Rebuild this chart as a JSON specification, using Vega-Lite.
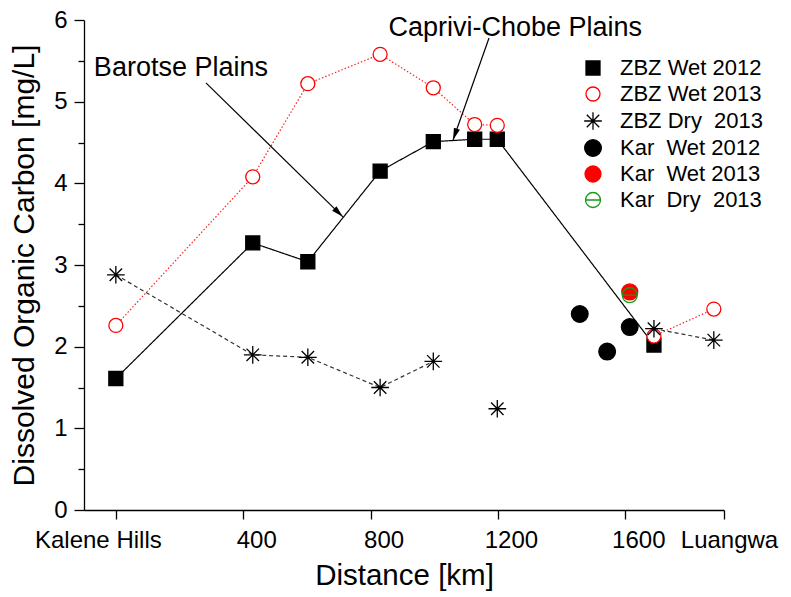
{
  "$schema": "https://vega.github.io/schema/vega-lite/v6.json",
  "width": 640,
  "height": 490,
  "autosize": "none",
  "padding": {"left": 84, "top": 20, "right": 67, "bottom": 87},
  "background": "white",
  "config": {
    "view": {"stroke": null},
    "font": "Liberation Sans",
    "axis": {
      "grid": false,
      "domainColor": "black",
      "domainWidth": 1.3,
      "tickColor": "black",
      "tickWidth": 1.3,
      "labelColor": "black",
      "labelFontSize": 24,
      "labelFont": "Liberation Sans",
      "titleColor": "black",
      "titleFontWeight": "normal",
      "titleFont": "Liberation Sans"
    },
    "legend": {
      "labelFontSize": 22,
      "labelColor": "black",
      "labelFont": "Liberation Sans",
      "labelLimit": 400,
      "symbolStrokeWidth": 1.3,
      "symbolSize": 196,
      "rowPadding": 4,
      "labelOffset": 16,
      "padding": 0,
      "symbolOffset": 0
    }
  },
  "datasets": {
    "obs": [
      {"series": "ZBZ Wet 2012", "seg": "a", "x": 0, "y": 1.61},
      {"series": "ZBZ Wet 2012", "seg": "a", "x": 430, "y": 3.27},
      {"series": "ZBZ Wet 2012", "seg": "a", "x": 603, "y": 3.04},
      {"series": "ZBZ Wet 2012", "seg": "a", "x": 830, "y": 4.15},
      {"series": "ZBZ Wet 2012", "seg": "a", "x": 997, "y": 4.51},
      {"series": "ZBZ Wet 2012", "seg": "a", "x": 1127, "y": 4.54},
      {"series": "ZBZ Wet 2012", "seg": "a", "x": 1198, "y": 4.54},
      {"series": "ZBZ Wet 2012", "seg": "a", "x": 1690, "y": 2.02},
      {"series": "ZBZ Wet 2013", "seg": "a", "x": 0, "y": 2.26},
      {"series": "ZBZ Wet 2013", "seg": "a", "x": 430, "y": 4.08},
      {"series": "ZBZ Wet 2013", "seg": "a", "x": 603, "y": 5.22},
      {"series": "ZBZ Wet 2013", "seg": "a", "x": 830, "y": 5.58},
      {"series": "ZBZ Wet 2013", "seg": "a", "x": 997, "y": 5.17},
      {"series": "ZBZ Wet 2013", "seg": "a", "x": 1127, "y": 4.72},
      {"series": "ZBZ Wet 2013", "seg": "a", "x": 1198, "y": 4.71},
      {"series": "ZBZ Wet 2013", "seg": "b", "x": 1690, "y": 2.13},
      {"series": "ZBZ Wet 2013", "seg": "b", "x": 1878, "y": 2.46},
      {"series": "ZBZ Dry 2013", "seg": "a", "x": 0, "y": 2.88},
      {"series": "ZBZ Dry 2013", "seg": "a", "x": 430, "y": 1.90},
      {"series": "ZBZ Dry 2013", "seg": "a", "x": 603, "y": 1.87},
      {"series": "ZBZ Dry 2013", "seg": "a", "x": 830, "y": 1.50},
      {"series": "ZBZ Dry 2013", "seg": "a", "x": 997, "y": 1.82},
      {"series": "ZBZ Dry 2013", "seg": "b", "x": 1198, "y": 1.24},
      {"series": "ZBZ Dry 2013", "seg": "c", "x": 1690, "y": 2.22},
      {"series": "ZBZ Dry 2013", "seg": "c", "x": 1878, "y": 2.08},
      {"series": "Kar Wet 2012", "seg": "a", "x": 1457, "y": 2.40},
      {"series": "Kar Wet 2012", "seg": "a", "x": 1543, "y": 1.94},
      {"series": "Kar Wet 2012", "seg": "a", "x": 1614, "y": 2.24},
      {"series": "Kar Wet 2013", "seg": "a", "x": 1614, "y": 2.67},
      {"series": "Kar Dry 2013", "seg": "a", "x": 1614, "y": 2.63}
    ],
    "notes": [
      {"label": "Barotse Plains", "x": -69, "y": 5.31},
      {"label": "Caprivi-Chobe Plains", "x": 856, "y": 5.80}
    ],
    "arrows": [
      {"name": "Barotse", "x": 283, "y": 5.23, "x2": 713, "y2": 3.59},
      {"name": "Caprivi", "x": 1172, "y": 5.78, "x2": 1059, "y2": 4.53}
    ]
  },
  "layer": [
    {
      "data": {"name": "obs"},
      "transform": [{"filter": "indexof(['ZBZ Wet 2012','ZBZ Wet 2013','ZBZ Dry 2013'], datum.series) >= 0"}],
      "mark": {"type": "line", "strokeWidth": 1.2},
      "encoding": {
        "x": {"field": "x", "type": "quantitative", "scale": {"domain": [-100, 1910], "nice": false, "zero": false},
          "axis": {
            "title": "Distance [km]",
            "titleFontSize": 29.5,
            "values": [0, 400, 800, 1200, 1600, 1910],
            "format": "d",
            "labelExpr": "datum.value === 0 ? 'Kalene Hills' : datum.value > 1800 ? 'Luangwa' : datum.label",
            "labelFlush": false,
            "labelOverlap": false,
            "tickSize": 9,
            "labelPadding": 9,
            "labelOffset": {"condition": [{"test": "datum.value === 0", "value": -18}, {"test": "datum.value > 1800", "value": 5}], "value": 13},
            "titlePadding": 9
          }
        },
        "y": {"field": "y", "type": "quantitative", "scale": {"domain": [0, 6], "nice": false},
          "axis": {
            "title": "Dissolved Organic Carbon [mg/L]",
            "titleFontSize": 30,
            "values": [0, 0.5, 1, 1.5, 2, 2.5, 3, 3.5, 4, 4.5, 5, 5.5, 6],
            "labelExpr": "datum.value % 1 === 0 ? format(datum.value, 'd') : ''",
            "tickSize": {"condition": {"test": "datum.value % 1 === 0", "value": 10}, "value": 6},
            "labelPadding": 7,
            "titlePadding": 14
          }
        },
        "color": {"field": "series", "type": "nominal", "legend": null,
          "scale": {"domain": ["ZBZ Wet 2012", "ZBZ Wet 2013", "ZBZ Dry 2013"], "range": ["#000000", "#ff2020", "#333333"]}},
        "strokeDash": {"field": "series", "type": "nominal", "legend": null,
          "scale": {"domain": ["ZBZ Wet 2012", "ZBZ Wet 2013", "ZBZ Dry 2013"], "range": [[1, 0], [1.5, 2], [4, 3]]}},
        "detail": {"field": "seg"}
      }
    },
    {
      "data": {"name": "obs"},
      "mark": {"type": "point", "opacity": 1, "strokeWidth": 1.3, "size": 196},
      "encoding": {
        "x": {"field": "x", "type": "quantitative"},
        "y": {"field": "y", "type": "quantitative"},
        "shape": {"field": "series", "type": "nominal",
          "scale": {
            "domain": ["ZBZ Wet 2012", "ZBZ Wet 2013", "ZBZ Dry 2013", "Kar Wet 2012", "Kar Wet 2013", "Kar Dry 2013"],
            "range": ["square", "circle", "M-1.26,0H1.26M0,-1.26V1.26M-0.89,-0.89L0.89,0.89M-0.89,0.89L0.89,-0.89", "M-1.19,0A1.19,1.19 0 1,0 1.19,0A1.19,1.19 0 1,0 -1.19,0Z", "M-1.14,0A1.14,1.14 0 1,0 1.14,0A1.14,1.14 0 1,0 -1.14,0Z", "M-1.07,0A1.07,1.07 0 1,0 1.07,0A1.07,1.07 0 1,0 -1.07,0ZM-1.07,0H1.07"]
          },
          "legend": {
            "title": null,
            "orient": "none",
            "legendX": 498,
            "legendY": 37,
            "labelExpr": "datum.value === 'ZBZ Dry 2013' ? 'ZBZ Dry\u00a0 2013' : datum.value === 'Kar Wet 2012' ? 'Kar\u00a0 Wet 2012' : datum.value === 'Kar Wet 2013' ? 'Kar\u00a0 Wet 2013' : datum.value === 'Kar Dry 2013' ? 'Kar\u00a0 Dry\u00a0 2013' : datum.label"
          }
        },
        "fill": {"field": "series", "type": "nominal",
          "scale": {
            "domain": ["ZBZ Wet 2012", "ZBZ Wet 2013", "ZBZ Dry 2013", "Kar Wet 2012", "Kar Wet 2013", "Kar Dry 2013"],
            "range": ["#000000", "#ffffff", "transparent", "#000000", "#ff0000", "transparent"]
          },
          "legend": {"title": null}
        },
        "stroke": {"field": "series", "type": "nominal",
          "scale": {
            "domain": ["ZBZ Wet 2012", "ZBZ Wet 2013", "ZBZ Dry 2013", "Kar Wet 2012", "Kar Wet 2013", "Kar Dry 2013"],
            "range": ["#000000", "#ff0000", "#000000", "#000000", "#ff0000", "#179a17"]
          },
          "legend": {"title": null}
        }
      }
    },
    {
      "data": {"name": "arrows"},
      "mark": {"type": "rule", "color": "black", "strokeWidth": 1.2},
      "encoding": {
        "x": {"field": "x", "type": "quantitative"},
        "y": {"field": "y", "type": "quantitative"},
        "x2": {"field": "x2"},
        "y2": {"field": "y2"}
      }
    },
    {
      "data": {"name": "arrows"},
      "transform": [{"filter": "datum.name === 'Barotse'"}],
      "mark": {"type": "point", "shape": "M0,0L0.45,1.7L-0.45,1.7Z", "angle": 134, "filled": true, "color": "black", "opacity": 1, "size": 196, "strokeWidth": 0},
      "encoding": {
        "x": {"field": "x2", "type": "quantitative"},
        "y": {"field": "y2", "type": "quantitative"}
      }
    },
    {
      "data": {"name": "arrows"},
      "transform": [{"filter": "datum.name === 'Caprivi'"}],
      "mark": {"type": "point", "shape": "M0,0L0.45,1.7L-0.45,1.7Z", "angle": 199, "filled": true, "color": "black", "opacity": 1, "size": 196, "strokeWidth": 0},
      "encoding": {
        "x": {"field": "x2", "type": "quantitative"},
        "y": {"field": "y2", "type": "quantitative"}
      }
    },
    {
      "data": {"name": "notes"},
      "mark": {"type": "text", "align": "left", "baseline": "alphabetic", "fontSize": 27, "color": "black", "font": "Liberation Sans"},
      "encoding": {
        "x": {"field": "x", "type": "quantitative"},
        "y": {"field": "y", "type": "quantitative"},
        "text": {"field": "label"}
      }
    }
  ]
}
